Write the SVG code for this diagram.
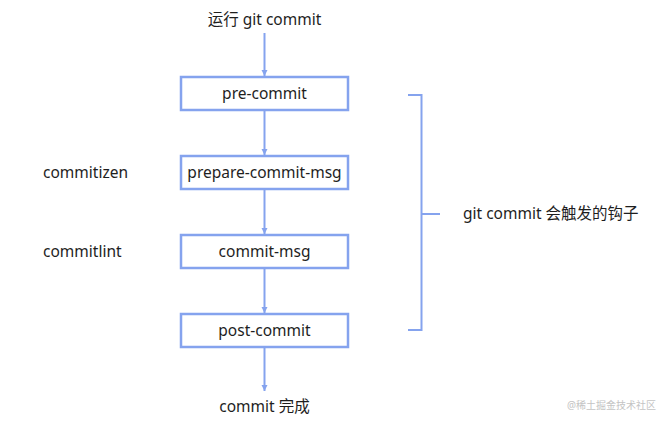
<svg xmlns="http://www.w3.org/2000/svg" width="663" height="424" viewBox="0 0 663 424">
<style>
text{font-family:"Noto Sans","Noto Sans CJK SC",sans-serif;font-size:15.5px;fill:#1e1e1e}
.box{fill:#fff;stroke:#85a3ee;stroke-width:2.5}
.ln{stroke:#85a3ee;stroke-width:2;fill:none}
.c{text-anchor:middle}
.wm{font-size:10px;fill:#c4c4c4}
</style>
<defs>
<marker id="ah" markerWidth="8" markerHeight="8" refX="6" refY="4" orient="auto" markerUnits="userSpaceOnUse">
<path d="M0,1 L6,4 L0,7 z" fill="#85a3ee"/>
</marker>
</defs>
<rect width="663" height="424" fill="#fff"/>
<g id="connectors">
<line class="ln" x1="264.5" y1="33" x2="264.5" y2="76" marker-end="url(#ah)"/>
<line class="ln" x1="264.5" y1="111" x2="264.5" y2="155" marker-end="url(#ah)"/>
<line class="ln" x1="264.5" y1="190" x2="264.5" y2="234" marker-end="url(#ah)"/>
<line class="ln" x1="264.5" y1="269" x2="264.5" y2="313" marker-end="url(#ah)"/>
<line class="ln" x1="264.5" y1="348" x2="264.5" y2="391" marker-end="url(#ah)"/>
<path class="ln" d="M408,95 H421.5 V330 H408 M421.5,214 H440"/>
</g>
<g id="start"><text class="c" x="264.5" y="25">运行 git commit</text></g>
<g id="pre-commit"><rect class="box" x="181" y="77" width="167" height="33"/><text class="c" x="264.5" y="99">pre-commit</text></g>
<g id="prepare-commit-msg"><rect class="box" x="181" y="156" width="167" height="33"/><text class="c" x="264.5" y="178">prepare-commit-msg</text></g>
<g id="commit-msg"><rect class="box" x="181" y="235" width="167" height="33"/><text class="c" x="264.5" y="257">commit-msg</text></g>
<g id="post-commit"><rect class="box" x="181" y="314" width="167" height="33"/><text class="c" x="264.5" y="336">post-commit</text></g>
<g id="end"><text class="c" x="264.5" y="412">commit 完成</text></g>
<g id="commitizen"><text x="43" y="178">commitizen</text></g>
<g id="commitlint"><text x="43" y="257">commitlint</text></g>
<g id="hooks"><text x="463" y="219">git commit 会触发的钩子</text></g>
<text class="wm" x="567" y="409">@稀土掘金技术社区</text>
</svg>
